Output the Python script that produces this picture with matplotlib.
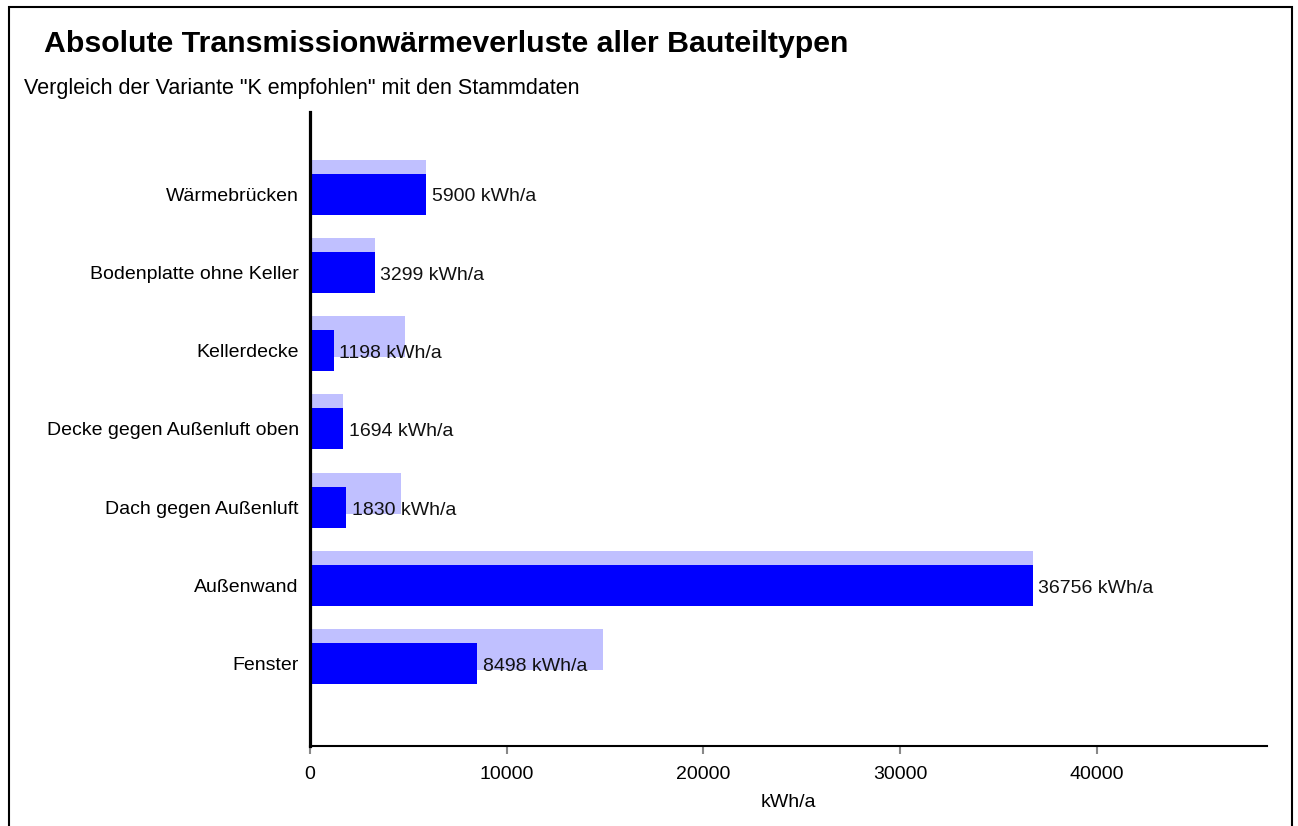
import matplotlib
matplotlib.use("Agg")
from matplotlib import pyplot as plt
from matplotlib.patches import Rectangle

plt.rcParams['font.family'] = ['Liberation Sans', 'DejaVu Sans']

# Bauteiltypen, von unten nach oben
categories = ['Fenster', 'Außenwand', 'Dach gegen Außenluft',
              'Decke gegen Außenluft oben', 'Kellerdecke',
              'Bodenplatte ohne Keller', 'Wärmebrücken']
# Variante "K empfohlen" (kWh/a)
variante = [8498, 36756, 1830, 1694, 1198, 3299, 5900]
# Stammdaten (kWh/a)
stammdaten = [14890, 36756, 4605, 1694, 4810, 3300, 5900]

xticks = [0, 10000, 20000, 30000, 40000]

DARK = '#0000ff'
LIGHT = '#c0c0ff'

fig = plt.figure(figsize=(12.98, 8.26), dpi=100)
ax = fig.add_axes([0.2388, 0.0969, 0.976 - 0.2388, 0.8644 - 0.0969])

ypos = list(range(len(categories)))
bar_h = 0.524
shift = 0.18

ax.barh([y + shift for y in ypos], stammdaten, height=bar_h, color=LIGHT,
        zorder=1)
ax.barh(ypos, variante, height=bar_h, color=DARK, zorder=2)

for y, v in zip(ypos, variante):
    ax.annotate(f'{v} kWh/a', xy=(v, y), xytext=(4, -2),
                textcoords='offset points', ha='left', va='center',
                fontsize=14, color='#111111', zorder=3)

ax.set_xlim(0, 48650)
ax.set_ylim(-1.05, 7.05)
ax.set_yticks(ypos)
ax.set_yticklabels(categories, fontsize=14)
ax.set_xticks(xticks)
ax.set_xticklabels([str(t) for t in xticks], fontsize=14)
ax.tick_params(axis='y', length=0, pad=8)
ax.tick_params(axis='x', length=6, width=1.5, color='#888888', pad=8.5)
ax.set_xlabel('kWh/a', fontsize=14, labelpad=7.5)

for s in ('top', 'right'):
    ax.spines[s].set_visible(False)
ax.spines['left'].set_linewidth(2.3)
ax.spines['bottom'].set_linewidth(1.5)

fig.text(44 / 1298, 1 - 52 / 826, 'Absolute Transmissionwärmeverluste aller Bauteiltypen',
         fontsize=21.8, fontweight='bold', ha='left', va='baseline')
fig.text(24 / 1298, 1 - 94 / 826, 'Vergleich der Variante "K empfohlen" mit den Stammdaten',
         fontsize=15.5, ha='left', va='baseline')

# Rahmen um die gesamte Grafik
fig.patches.append(Rectangle((9 / 1298, -0.05), (1292 - 9) / 1298, 1.05 - 7 / 826,
                             transform=fig.transFigure, fill=False,
                             edgecolor='black', linewidth=1.5))

fig.savefig('out.png', dpi=100)
